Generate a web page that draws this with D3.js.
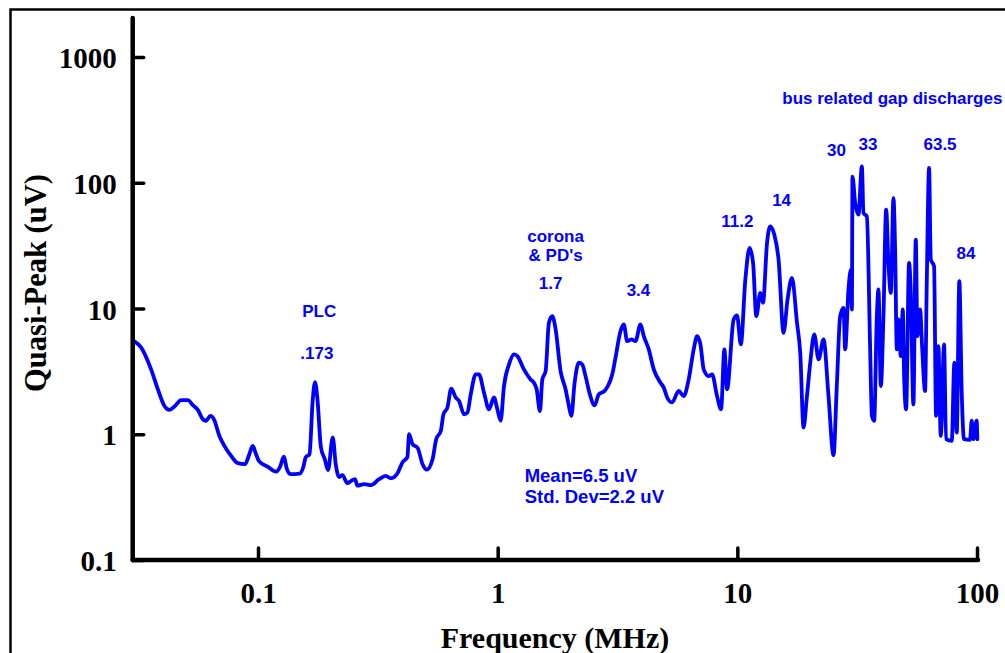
<!DOCTYPE html>
<html>
<head>
<meta charset="utf-8">
<script src="https://cdn.jsdelivr.net/npm/d3@7"></script>
<style>
  html, body { margin: 0; padding: 0; background: #fff; }
  svg { display: block; }
</style>
</head>
<body>
<svg id="chart" width="1005" height="653"></svg>
<script>
// Quasi-peak noise spectrum, frequency in MHz
const freqMHz = [
  0.0304, 0.0325, 0.0358, 0.0382, 0.0407, 0.0427, 0.0448, 0.0478, 0.0510, 0.0535,
  0.0561, 0.0588, 0.0607, 0.0633, 0.0654, 0.0690, 0.0724, 0.0772, 0.0823, 0.0883,
  0.0920, 0.0950, 0.0981, 0.101, 0.110, 0.119, 0.124, 0.128, 0.132, 0.137,
  0.149, 0.155, 0.158, 0.164, 0.169, 0.173, 0.177, 0.183, 0.190, 0.196,
  0.205, 0.211, 0.218, 0.225, 0.236, 0.244, 0.254, 0.260, 0.277, 0.296,
  0.320, 0.341, 0.358, 0.382, 0.401, 0.420, 0.427, 0.441, 0.463, 0.486,
  0.506, 0.535, 0.554, 0.579, 0.594, 0.617, 0.640, 0.668, 0.690, 0.724,
  0.748, 0.772, 0.810, 0.836, 0.877, 0.920, 0.965, 0.997, 1.029, 1.062,
  1.115, 1.169, 1.208, 1.287, 1.372, 1.416, 1.454, 1.501, 1.536, 1.585,
  1.636, 1.690, 1.745, 1.830, 1.920, 1.982, 2.029, 2.094, 2.182, 2.254,
  2.326, 2.424, 2.536, 2.643, 2.792, 2.882, 3.006, 3.102, 3.254, 3.359,
  3.470, 3.617, 3.758, 3.943, 4.071, 4.270, 4.480, 4.778, 4.932, 5.096,
  5.345, 5.693, 5.974, 6.267, 6.576, 6.794, 7.014, 7.239, 7.594, 7.846,
  8.230, 8.553, 8.829, 9.060, 9.652, 9.97, 10.34, 10.80, 11.25, 11.63,
  12.00, 12.47, 12.80, 13.30, 13.72, 14.26, 14.86, 15.59, 16.20, 16.90,
  17.74, 18.30, 18.89, 19.52, 20.15, 20.94, 21.82, 22.89, 24.01, 25.19,
  26.02, 26.86, 27.73, 28.18, 29.09, 29.77, 30.06, 30.23, 31.02, 32.02,
  33.08, 33.60, 34.70, 35.83, 36.42, 37.23, 38.20, 38.80, 39.70, 40.71,
  41.78, 42.70, 43.70, 44.81, 45.54, 46.29, 47.00, 48.10, 49.03, 49.64,
  50.60, 52.08, 52.94, 54.28, 55.54, 56.40, 57.88, 59.00, 60.72, 61.72,
  63.10, 64.14, 66.20, 67.48, 69.00, 70.60, 72.87, 74.28, 78.46, 80.44,
  82.31, 84.39, 86.36, 88.27, 93.50, 95.04, 96.51, 99.7, 100.3
];

// Quasi-peak level in uV at each frequency
const quasiPeakUV = [
  5.50, 4.90, 3.28, 2.28, 1.68, 1.56, 1.66, 1.87, 1.87, 1.70,
  1.56, 1.32, 1.28, 1.40, 1.32, 0.969, 0.808, 0.673, 0.589, 0.578,
  0.694, 0.808, 0.694, 0.611, 0.550, 0.504, 0.560, 0.665, 0.528, 0.481,
  0.486, 0.560, 0.653, 0.694, 1.83, 2.60, 1.90, 0.789, 0.633, 0.518,
  0.942, 0.578, 0.456, 0.473, 0.408, 0.424, 0.439, 0.390, 0.401, 0.394,
  0.439, 0.467, 0.447, 0.490, 0.600, 0.657, 1.00, 0.833, 0.781, 0.578,
  0.523, 0.633, 0.913, 1.06, 1.44, 1.63, 2.30, 1.96, 1.84, 1.44,
  1.49, 2.08, 2.99, 2.99, 2.14, 1.58, 1.96, 1.58, 1.28, 2.40,
  3.59, 4.31, 4.18, 3.28, 2.73, 2.57, 2.28, 1.53, 2.73, 3.18,
  7.70, 8.69, 6.81, 3.18, 2.28, 1.68, 1.40, 2.57, 3.71, 3.59,
  2.90, 2.08, 1.70, 2.08, 2.21, 2.42, 2.99, 4.06, 6.60, 7.46,
  5.50, 5.68, 5.50, 7.46, 6.03, 4.73, 3.28, 2.57, 2.35, 1.96,
  1.79, 2.21, 2.01, 2.73, 4.73, 6.03, 5.18, 3.28, 2.90, 2.99,
  2.01, 1.58, 4.73, 2.28, 8.18, 8.80, 5.18, 17.0, 30.3, 23.1,
  8.69, 13.3, 11.1, 33.2, 45.0, 38.7, 24.5, 6.41, 11.8, 17.5,
  7.70, 4.45, 1.13, 2.01, 3.71, 6.22, 3.94, 5.68, 2.01, 0.681,
  2.49, 8.69, 10.1, 4.73, 14.2, 20.4, 9.82, 112, 69.0, 55.7,
  135, 57.5, 54.0, 4.73, 1.40, 1.28, 8.69, 14.2, 2.42, 8.69,
  61.1, 23.1, 13.3, 75.6, 29.4, 4.73, 8.18, 4.18, 9.82, 2.90,
  1.58, 23.1, 13.3, 1.73, 35.3, 6.03, 9.82, 5.02, 2.21, 16.0,
  131, 24.5, 21.7, 1.40, 5.02, 0.969, 5.18, 0.913, 0.885, 3.71,
  1.03, 16.5, 2.14, 0.913, 0.901, 1.28, 0.913, 1.28, 0.913
];

const xTickValues = [0.1, 1, 10, 100];
const xTickLabels = ["0.1", "1", "10", "100"];
const yTickValues = [0.1, 1, 10, 100, 1000];
const yTickLabels = ["0.1", "1", "10", "100", "1000"];

// Peak annotations: text, frequency (MHz), baseline level (uV)
const noteTexts = ["PLC", ".173", "corona", "& PD's", "1.7", "3.4", "11.2", "14",
                   "30", "33", "63.5", "84"];
const noteFreqs = [0.180, 0.176, 1.745, 1.745, 1.663, 3.868, 10.0, 15.3,
                   25.9, 35.1, 70.1, 90.0];
const noteLevels = [8.6, 4.0, 34.0, 24.0, 14.2, 12.5, 44.8, 64.9,
                    164, 183, 183, 24.9];

// Left-aligned text blocks
const blockTexts = ["bus related gap discharges", "Mean=6.5 uV", "Std. Dev=2.2 uV"];
const blockFreqs = [15.4, 1.296, 1.296];
const blockLevels = [424, 0.414, 0.284];
const blockSizes = ["17px", "18.5px", "18.5px"];

const serif = "'Liberation Serif', 'Times New Roman', serif";
const sans = "'Liberation Sans', Arial, Helvetica, sans-serif";
const lineBlue = "#0000ff";

const svg = d3.select("#chart");

// outer frame
svg.append("rect")
  .attr("x", 10.5).attr("y", 9.5)
  .attr("width", 1100).attr("height", 800)
  .attr("fill", "none").attr("stroke", "#000").attr("stroke-width", 2.5);

const x = d3.scaleLog().domain([0.03, 100]).range([132.7, 977]);
const y = d3.scaleLog().domain([0.1, 1000]).range([560, 57]);
const yAxisTop = 18;

// curve
const data = freqMHz.map((f, i) => ({ f, v: quasiPeakUV[i] }));
const line = d3.line().curve(d3.curveMonotoneX).x(d => x(d.f)).y(d => y(d.v));
svg.append("path")
  .datum(data)
  .attr("d", line)
  .attr("fill", "none")
  .attr("stroke", lineBlue)
  .attr("stroke-width", 3.8)
  .attr("stroke-linejoin", "round")
  .attr("stroke-linecap", "round");

// x axis
const xAxis = d3.axisBottom(x)
  .tickValues(xTickValues)
  .tickFormat((d, i) => xTickLabels[i])
  .tickSizeInner(-12)
  .tickSizeOuter(0)
  .tickPadding(22);
const gx = svg.append("g").attr("transform", `translate(0,${y(0.1)})`).call(xAxis);
gx.select(".domain").remove();
gx.append("line")
  .attr("x1", x.range()[0]).attr("x2", x.range()[1] + 1)
  .attr("stroke", "#000").attr("stroke-width", 4.5).attr("stroke-linecap", "round");
gx.selectAll(".tick line").attr("stroke", "#000").attr("stroke-width", 3.5).attr("stroke-linecap", "round");
gx.selectAll(".tick text")
  .attr("fill", "#000")
  .style("font-family", serif).style("font-weight", "bold").style("font-size", "29px");

// y axis
const yAxis = d3.axisLeft(y)
  .tickValues(yTickValues)
  .tickFormat((d, i) => yTickLabels[i])
  .tickSizeInner(-11)
  .tickSizeOuter(0)
  .tickPadding(16);
const gy = svg.append("g").attr("transform", `translate(${x.range()[0]},0)`).call(yAxis);
gy.select(".domain").remove();
gy.append("line")
  .attr("y1", y.range()[0]).attr("y2", yAxisTop)
  .attr("stroke", "#000").attr("stroke-width", 4.5).attr("stroke-linecap", "round");
gy.selectAll(".tick line").attr("stroke", "#000").attr("stroke-width", 3.5).attr("stroke-linecap", "round");
gy.selectAll(".tick text")
  .attr("fill", "#000")
  .attr("dy", "0.37em")
  .style("font-family", serif).style("font-weight", "bold").style("font-size", "29px");

// axis titles
svg.append("text")
  .attr("x", 555).attr("y", 648)
  .attr("text-anchor", "middle")
  .style("font-family", serif).style("font-weight", "bold").style("font-size", "30px")
  .text("Frequency (MHz)");
svg.append("text")
  .attr("transform", "translate(46,283) rotate(-90)")
  .attr("text-anchor", "middle")
  .style("font-family", serif).style("font-weight", "bold").style("font-size", "30.5px")
  .text("Quasi-Peak (uV)");

// annotations
svg.append("g").selectAll("text")
  .data(noteTexts)
  .join("text")
  .attr("x", (d, i) => x(noteFreqs[i]))
  .attr("y", (d, i) => y(noteLevels[i]))
  .attr("text-anchor", "middle")
  .attr("fill", lineBlue)
  .style("font-family", sans).style("font-weight", "bold").style("font-size", "17px")
  .text(d => d);

svg.append("g").selectAll("text")
  .data(blockTexts)
  .join("text")
  .attr("x", (d, i) => x(blockFreqs[i]))
  .attr("y", (d, i) => y(blockLevels[i]))
  .attr("text-anchor", "start")
  .attr("fill", lineBlue)
  .style("font-family", sans).style("font-weight", "bold")
  .style("font-size", (d, i) => blockSizes[i])
  .text(d => d);
</script>
</body>
</html>
